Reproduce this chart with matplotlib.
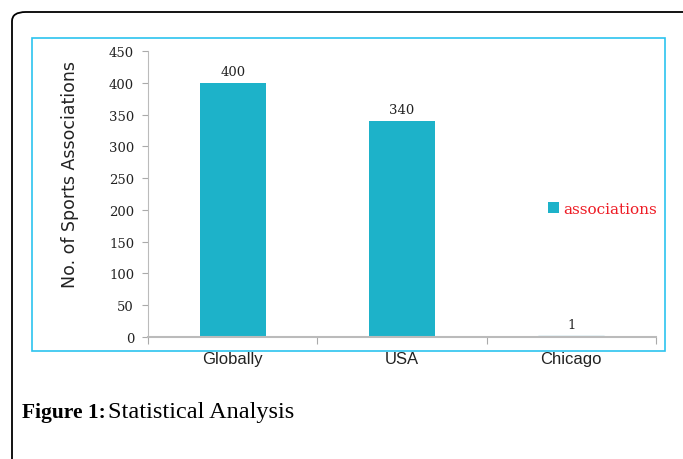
import matplotlib
matplotlib.use("Agg")
import matplotlib.pyplot as plt
from matplotlib.patches import FancyBboxPatch, Rectangle

categories = ["Globally", "USA", "Chicago"]
values = [400, 340, 1]
series_name = "associations"
yticks = [0, 50, 100, 150, 200, 250, 300, 350, 400, 450]

W, H = 683, 460
fig = plt.figure(figsize=(W / 100, H / 100), dpi=100)
fig.patch.set_facecolor("white")

def fx(px):
    return px / W

def fy(py):
    return 1 - py / H

# outer rounded border (extends beyond figure right/bottom)
outer = FancyBboxPatch((fx(12), fy(480)), fx(700) - fx(12), fy(13) - fy(480),
                       boxstyle="round,pad=0,rounding_size=0.02",
                       transform=fig.transFigure, fill=False,
                       edgecolor="black", linewidth=1.3, clip_on=False)
fig.patches.append(outer)

# cyan chart frame
frame = Rectangle((fx(31.5), fy(352)), fx(665) - fx(31.5), fy(39) - fy(352),
                  transform=fig.transFigure, fill=False,
                  edgecolor="#2cc3ef", linewidth=1.2)
fig.patches.append(frame)

ax = fig.add_axes([fx(148), fy(338), fx(656) - fx(148), fy(52) - fy(338)])
bar_color = "#1db2c9"
x = list(range(len(categories)))
bars = ax.bar(x, values, width=0.39, color=bar_color, label=series_name)
bars[2].set_color("#8cc4d6")

ax.set_xlim(-0.5, 2.5)
ax.set_ylim(0, 450)
ax.set_yticks(yticks)
ax.set_yticklabels([str(v) for v in yticks], fontfamily="DejaVu Serif",
                   fontsize=9.5, color="#222222")
ax.set_xticks([-0.5, 0.5, 1.5, 2.5])
ax.set_xticklabels([])
ax.tick_params(axis="x", direction="out", length=5, color="#aaaaaa")
ax.tick_params(axis="y", direction="out", length=4, color="#aaaaaa", pad=6)
for i, c in enumerate(categories):
    ax.text(i, -22, c, ha="center", va="top", fontsize=12,
            fontfamily="Liberation Sans", color="#222222",
            transform=ax.transData)

for s in ["top", "right"]:
    ax.spines[s].set_visible(False)
ax.spines["left"].set_color("#bbbbbb")
ax.spines["bottom"].set_color("#bbbbbb")
ax.spines["bottom"].set_linewidth(1.5)

for i, v in enumerate(values):
    ax.text(i, v + 8, str(v), ha="center", va="bottom", fontsize=9.5,
            fontfamily="DejaVu Serif", color="#222222")

ax.set_ylabel("No. of Sports Associations", fontsize=12.5,
              fontfamily="DejaVu Sans", color="#222222")
ax.yaxis.set_label_coords((79 - 148) / 508, (338 - 175) / 286)

leg = ax.legend(loc="center left", bbox_to_anchor=(fx(548) - fx(148), 0),
                frameon=False, handlelength=0.7, handleheight=0.7,
                handletextpad=0.3, borderpad=0, borderaxespad=0,
                prop={"family": "DejaVu Serif", "size": 11})
leg.set_bbox_to_anchor((fx(548), fy(210)), transform=fig.transFigure)
for t in leg.get_texts():
    t.set_color("#ee1c25")

fig.text(fx(22), fy(413), "Figure 1:", fontsize=15.5, fontweight="bold",
         fontfamily="Liberation Serif", va="center", ha="left")
fig.text(fx(108), fy(413), "Statistical Analysis", fontsize=17.5,
         fontfamily="Liberation Serif", va="center", ha="left")

fig.savefig("out.png", dpi=100, facecolor="white")
